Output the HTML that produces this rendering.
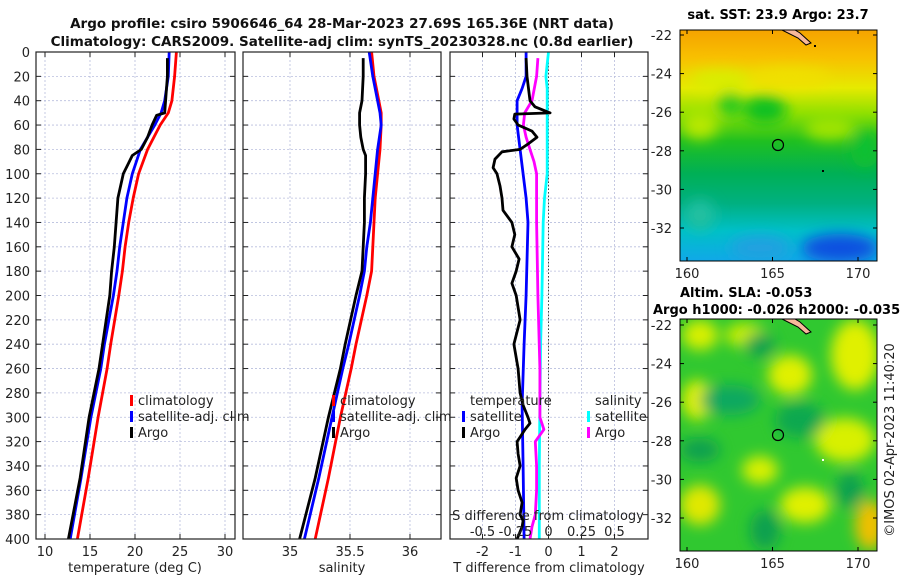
<!DOCTYPE html>
<html><head><meta charset="utf-8">
<style>
html,body{margin:0;padding:0;background:#fff;}
svg{display:block;font-family:"DejaVu Sans","Liberation Sans",sans-serif;}
</style></head>
<body>
<svg id="fig" width="900" height="580" viewBox="0 0 900 580">
<defs>
<filter id="blur1" x="-20%" y="-20%" width="140%" height="140%"><feGaussianBlur stdDeviation="7"/></filter>
<filter id="blur2" x="-20%" y="-20%" width="140%" height="140%"><feGaussianBlur stdDeviation="7"/></filter>
<clipPath id="clipTop"><rect x="680" y="30" width="197" height="231"/></clipPath>
<clipPath id="clipBot"><rect x="680" y="319" width="197" height="232"/></clipPath>
<clipPath id="c1"><rect x="36" y="52" width="199" height="487"/></clipPath>
<clipPath id="c2"><rect x="243" y="52" width="198" height="487"/></clipPath>
<clipPath id="c3"><rect x="450" y="52" width="198" height="487"/></clipPath>
<linearGradient id="sstGrad" x1="0" y1="0" x2="0" y2="1">
<stop offset="0" stop-color="#f5a300"/><stop offset="0.12" stop-color="#f8c000"/><stop offset="0.25" stop-color="#e6ea00"/>
<stop offset="0.36" stop-color="#90e000"/><stop offset="0.48" stop-color="#20c020"/><stop offset="0.62" stop-color="#00b055"/>
<stop offset="0.75" stop-color="#00b080"/><stop offset="0.87" stop-color="#00c0c8"/><stop offset="1" stop-color="#10a8e8"/>
</linearGradient>
</defs>

<g font-weight="bold" font-size="13.5" text-anchor="middle" fill="#111">
<text x="342" y="28">Argo profile: csiro 5906646_64 28-Mar-2023 27.69S 165.36E (NRT data)</text>
<text x="342" y="46">Climatology: CARS2009. Satellite-adj clim: synTS_20230328.nc (0.8d earlier)</text>
</g>

<g id="panels"></g>

<!-- SST map -->
<g>
<text x="778" y="19" font-weight="bold" font-size="13" text-anchor="middle">sat. SST: 23.9 Argo: 23.7</text>
<g clip-path="url(#clipTop)">
<rect x="680" y="30" width="197" height="231" fill="url(#sstGrad)"/>
<g filter="url(#blur1)">
<ellipse cx="700" cy="125" rx="18" ry="14" fill="#b8e800"/>
<ellipse cx="765" cy="110" rx="22" ry="14" fill="#10c020"/>
<ellipse cx="730" cy="105" rx="12" ry="12" fill="#20c820"/>
<ellipse cx="830" cy="128" rx="25" ry="12" fill="#a0e400"/>
<ellipse cx="865" cy="150" rx="14" ry="18" fill="#10c030"/>
<ellipse cx="700" cy="215" rx="15" ry="15" fill="#20c0a0"/>
<ellipse cx="840" cy="248" rx="38" ry="14" fill="#1050e0"/>
<ellipse cx="760" cy="248" rx="30" ry="12" fill="#20a0e0"/>
<ellipse cx="790" cy="78" rx="40" ry="10" fill="#f0e000"/>
<ellipse cx="720" cy="80" rx="30" ry="10" fill="#d8ee00"/>
</g>
<path d="M782 30 L798 38 L806 45 L811 43 L800 33 L795 30 Z" fill="#f7b89a" stroke="#000" stroke-width="1"/>
<circle cx="778" cy="145" r="5.5" fill="none" stroke="#000" stroke-width="1.2"/>
<rect x="814" y="45" width="2" height="2" fill="#000"/><rect x="822" y="170" width="2" height="2" fill="#000"/>
</g>
<rect x="680" y="30" width="197" height="231" fill="none" stroke="#000" stroke-width="1"/>
<g id="sstAxes"></g>
</g>

<!-- SLA map -->
<g>
<text x="680" y="297" font-weight="bold" font-size="13">Altim. SLA: -0.053</text>
<text x="653" y="314" font-weight="bold" font-size="13">Argo h1000: -0.026 h2000: -0.035</text>
<g clip-path="url(#clipBot)">
<rect x="680" y="319" width="197" height="232" fill="#30c830"/>
<g filter="url(#blur2)">
<ellipse cx="700" cy="335" rx="18" ry="15" fill="#d8f000"/>
<ellipse cx="745" cy="335" rx="20" ry="12" fill="#c8ee00"/>
<ellipse cx="790" cy="375" rx="22" ry="20" fill="#e0f000"/>
<ellipse cx="855" cy="355" rx="24" ry="35" fill="#e0f000"/>
<ellipse cx="697" cy="400" rx="15" ry="20" fill="#e0f000"/>
<ellipse cx="845" cy="440" rx="30" ry="22" fill="#d8f000"/>
<ellipse cx="760" cy="470" rx="18" ry="14" fill="#d8f000"/>
<ellipse cx="805" cy="505" rx="25" ry="18" fill="#e0f000"/>
<ellipse cx="700" cy="505" rx="20" ry="20" fill="#e0e800"/>
<ellipse cx="870" cy="525" rx="15" ry="25" fill="#f0c000"/>
<ellipse cx="760" cy="345" rx="15" ry="12" fill="#10a050"/>
<ellipse cx="730" cy="400" rx="30" ry="15" fill="#10a860"/>
<ellipse cx="800" cy="420" rx="25" ry="18" fill="#10a850"/>
<ellipse cx="700" cy="450" rx="20" ry="12" fill="#10a050"/>
<ellipse cx="850" cy="490" rx="14" ry="18" fill="#10a050"/>
<ellipse cx="765" cy="530" rx="15" ry="20" fill="#10a050"/>
</g>
<path d="M782 319 L798 327 L806 334 L811 332 L800 322 L795 319 Z" fill="#f7b89a" stroke="#000" stroke-width="1"/>
<circle cx="778" cy="435" r="5.5" fill="none" stroke="#000" stroke-width="1.2"/>
<rect x="822" y="459" width="2" height="2" fill="#fff"/>
</g>
<rect x="680" y="319" width="197" height="232" fill="none" stroke="#000" stroke-width="1"/>
<g id="slaAxes"></g>
</g>

<text transform="translate(894,440) rotate(-90)" font-size="13" text-anchor="middle" fill="#222">©IMOS 02-Apr-2023 11:40:20</text>
</svg>

<script>
// ---------- data ----------
const tDepths   = [0, 20, 40, 50, 60, 80, 100, 120, 140, 160, 180, 200, 240, 260, 300, 350, 400];
const tempClim  = [24.6, 24.4, 24.1, 23.7, 22.8, 21.4, 20.4, 19.8, 19.3, 18.9, 18.6, 18.2, 17.3, 16.9, 15.9, 14.8, 13.6];
const tempSat   = [23.8, 23.7, 23.3, 22.9, 22.2, 20.6, 19.7, 19.1, 18.7, 18.3, 18.0, 17.6, 16.6, 16.2, 15.1, 14.0, 12.8];
const argoDepths= [5, 20, 40, 50, 52, 60, 70, 80, 85, 100, 120, 140, 160, 180, 200, 240, 260, 300, 350, 400];
const tempArgo  = [23.6, 23.6, 23.4, 23.3, 22.4, 21.9, 21.4, 20.7, 19.7, 18.7, 18.1, 17.9, 17.7, 17.4, 17.2, 16.4, 16.0, 14.9, 13.9, 12.6];

const salClim   = [35.68, 35.70, 35.74, 35.76, 35.76, 35.75, 35.73, 35.71, 35.70, 35.69, 35.68, 35.64, 35.55, 35.51, 35.42, 35.32, 35.21];
const salSat    = [35.66, 35.69, 35.73, 35.75, 35.76, 35.73, 35.71, 35.69, 35.67, 35.64, 35.62, 35.58, 35.49, 35.44, 35.35, 35.24, 35.12];
const salArgo   = [35.61, 35.61, 35.60, 35.58, 35.58, 35.58, 35.59, 35.61, 35.63, 35.63, 35.62, 35.62, 35.61, 35.60, 35.55, 35.46, 35.42, 35.32, 35.21, 35.08];

const dDepths   = [0, 20, 30, 40, 60, 80, 100, 120, 140, 200, 240, 290, 340, 400];
const tDiffSat  = [-0.68, -0.68, -0.80, -0.95, -0.95, -0.86, -0.77, -0.68, -0.62, -0.68, -0.74, -0.80, -0.77, -0.74];
const sDiffSat  = [0.0, -0.02, -0.01, -0.01, -0.01, -0.01, -0.01, -0.03, -0.04, -0.05, -0.06, -0.065, -0.07, -0.07];
const daDepths  = [5, 20, 40, 45, 50, 51, 55, 60, 65, 70, 75, 80, 82, 88, 95, 100, 110, 120, 130, 140, 150, 160, 170, 180, 190, 200, 220, 240, 260, 280, 290, 300, 305, 310, 320, 330, 340, 350, 360, 370, 380, 385, 390, 400];
const tDiffArgo = [-0.68, -0.65, -0.56, -0.41, 0.05, -1.02, -1.05, -0.92, -0.50, -0.35, -0.59, -0.86, -1.41, -1.62, -1.68, -1.56, -1.47, -1.41, -1.38, -1.11, -1.02, -1.11, -0.89, -0.98, -1.11, -0.98, -0.86, -1.05, -0.92, -0.86, -0.77, -0.62, -0.56, -0.71, -0.95, -0.92, -0.86, -0.98, -0.92, -0.80, -0.86, -0.77, -0.80, -0.95];
const dsDepths  = [5, 20, 40, 50, 60, 70, 80, 90, 100, 120, 140, 200, 260, 300, 310, 320, 340, 360, 380, 390, 400];
const sDiffArgo = [-0.08, -0.09, -0.125, -0.18, -0.19, -0.17, -0.14, -0.11, -0.09, -0.09, -0.09, -0.08, -0.065, -0.065, -0.035, -0.10, -0.09, -0.09, -0.10, -0.125, -0.14];

const depthTicks = [0,20,40,60,80,100,120,140,160,180,200,220,240,260,280,300,320,340,360,380,400];
const tempTicks  = [10,15,20,25,30];
const salTicks   = [35,35.5,36];
const salTickLabels = ["35","35.5","36"];
const tdTicks    = [-2,-1,0,1,2];
const sdTicks    = [-0.5,-0.25,0,0.25,0.5];
const sdTickLabels = ["-0.5","-0.25","0","0.25","0.5"];
const latTicks   = [-22,-24,-26,-28,-30,-32];
const lonTicks   = [160,165,170];

// ---------- scales ----------
const Y0 = 52, Y1 = 539;
const yD = d => Y0 + d * (Y1 - Y0) / 400;
const xT = t => 45 + (t - 10) * 9;
const xS = s => 290 + (s - 35) * 120;
const xTD = v => 548.5 + v * 33;
const xSD = v => 548.5 + v * 132;

const NS = "http://www.w3.org/2000/svg";
const panels = document.getElementById("panels");
function mk(tag, attrs, parent) {
  const e = document.createElementNS(NS, tag);
  for (const k in attrs) e.setAttribute(k, attrs[k]);
  (parent || panels).appendChild(e);
  return e;
}
function txt(s, x, y, attrs, parent) {
  const e = mk("text", Object.assign({x: x, y: y, "font-size": 13, fill: "#222"}, attrs || {}), parent);
  e.textContent = s;
  return e;
}

const frames = [
  {x0:36, x1:235, name:"temperature-panel", clip:"c1"},
  {x0:243, x1:441, name:"salinity-panel", clip:"c2"},
  {x0:450, x1:648, name:"difference-panel", clip:"c3"}
];
const vgrid = [tempTicks.map(xT), salTicks.map(xS), tdTicks.map(xTD)];

frames.forEach((f, i) => {
  const g = mk("g", {});
  
  
  depthTicks.forEach(d => {
    const l = mk("line", {x1:f.x0, x2:f.x1, y1:yD(d), y2:yD(d), stroke:"#b8bedd", "stroke-width":0.8, "stroke-dasharray":"2,2"}, g);
    
    
    mk("line", {x1:f.x0, x2:f.x0+5, y1:yD(d), y2:yD(d), stroke:"#222"}, g);
    mk("line", {x1:f.x1-5, x2:f.x1, y1:yD(d), y2:yD(d), stroke:"#222"}, g);
  });
  vgrid[i].forEach(x => {
    const l = mk("line", {x1:x, x2:x, y1:Y0, y2:Y1, stroke:"#b8bedd", "stroke-width":0.8, "stroke-dasharray":"2,2"}, g);
    
    
    mk("line", {x1:x, x2:x, y1:Y1-5, y2:Y1, stroke:"#222"}, g);
    mk("line", {x1:x, x2:x, y1:Y0, y2:Y0+5, stroke:"#222"}, g);
  });
  f.g = g;
});

depthTicks.forEach(d => {
  const t = txt(String(d), 30, yD(d)+5, {"text-anchor":"end"});
  
  
});
tempTicks.forEach(v => {
  const t = txt(String(v), xT(v), 556, {"text-anchor":"middle"});
  
  
});
salTicks.forEach((v, i) => {
  const t = txt(salTickLabels[i], xS(v), 556, {"text-anchor":"middle"});
  
  
});
tdTicks.forEach(v => {
  const t = txt(String(v), xTD(v), 556, {"text-anchor":"middle"});
  
  
});
let at = txt("temperature (deg C)", 135, 572, {"text-anchor":"middle"});


at = txt("salinity", 342, 572, {"text-anchor":"middle"});


at = txt("T difference from climatology", 549, 572, {"text-anchor":"middle"});



const zl = mk("line", {x1:xTD(0), x2:xTD(0), y1:Y0, y2:Y1, stroke:"#444", "stroke-width":1, "stroke-dasharray":"1.5,2"});



function series(vals, depths, xf, color, clip, name) {
  const pts = vals.map((v, i) => xf(v).toFixed(1) + "," + yD(depths[i]).toFixed(1)).join(" ");
  const p = mk("polyline", {points: pts, fill:"none", stroke: color, "stroke-width": 2.8, "stroke-linejoin":"round", "clip-path":"url(#"+clip+")"});
  
  
}
series(tempClim, tDepths, xT, "#ff0000", "c1", "temperature-climatology-line");
series(tempSat, tDepths, xT, "#0000ff", "c1", "temperature-satellite-line");
series(tempArgo, argoDepths, xT, "#000000", "c1", "temperature-argo-line");
series(salClim, tDepths, xS, "#ff0000", "c2", "salinity-climatology-line");
series(salSat, tDepths, xS, "#0000ff", "c2", "salinity-satellite-line");
series(salArgo, argoDepths, xS, "#000000", "c2", "salinity-argo-line");
series(sDiffSat, dDepths, xSD, "#00ffff", "c3", "s-diff-satellite-line");
series(tDiffSat, dDepths, xTD, "#0000ff", "c3", "t-diff-satellite-line");
series(sDiffArgo, dsDepths, xSD, "#ff00ff", "c3", "s-diff-argo-line");
series(tDiffArgo, daDepths, xTD, "#000000", "c3", "t-diff-argo-line");

frames.forEach(f => {
  const r = mk("rect", {x:f.x0, y:Y0, width:f.x1-f.x0, height:Y1-Y0, fill:"none", stroke:"#222", "stroke-width":1.2});
  
  
});

let sdt = txt("S difference from climatology", 548, 520, {"text-anchor":"middle", fill:"#222"});


sdTicks.forEach((v, i) => {
  const t = txt(sdTickLabels[i], xSD(v), 536, {"text-anchor":"middle"});
  
  
});

function legend(x, y, color, label, name) {
  const g = mk("g", {});
  
  
  mk("rect", {x:x, y:y-10, width:3, height:11, fill:color}, g);
  txt(label, x+8, y, {}, g);
}
legend(130, 405, "#ff0000", "climatology", "legend-climatology");
legend(130, 421, "#0000ff", "satellite-adj. clim", "legend-satellite-adj");
legend(130, 437, "#000000", "Argo", "legend-argo");
legend(332, 405, "#ff0000", "climatology", "legend-sal-climatology");
legend(332, 421, "#0000ff", "satellite-adj. clim", "legend-sal-satellite-adj");
legend(332, 437, "#000000", "Argo", "legend-sal-argo");
let lt = txt("temperature", 470, 405, {});


legend(462, 421, "#0000ff", "satellite", "legend-t-satellite");
legend(462, 437, "#000000", "Argo", "legend-t-argo");
lt = txt("salinity", 595, 405, {});


legend(587, 421, "#00ffff", "satellite", "legend-s-satellite");
legend(587, 437, "#ff00ff", "Argo", "legend-s-argo");

function mapAxes(gid, yTop, yBot, latY0, latY1) {
  const g = document.getElementById(gid);
  const yLat = la => latY0 + (la + 22) * (latY1 - latY0) / -10;
  const xLon = lo => 687 + (lo - 160) * 17.1;
  latTicks.forEach(la => {
    mk("line", {x1:680, x2:684, y1:yLat(la), y2:yLat(la), stroke:"#000"}, g);
    mk("line", {x1:873, x2:877, y1:yLat(la), y2:yLat(la), stroke:"#000"}, g);
    const t = txt(String(la), 672, yLat(la)+5, {"text-anchor":"end"}, g);
    
    
  });
  lonTicks.forEach(lo => {
    mk("line", {x1:xLon(lo), x2:xLon(lo), y1:yBot-4, y2:yBot, stroke:"#000"}, g);
    mk("line", {x1:xLon(lo), x2:xLon(lo), y1:yTop, y2:yTop+4, stroke:"#000"}, g);
    const t = txt(String(lo), xLon(lo), yBot+17, {"text-anchor":"middle"}, g);
    
    
  });
}
mapAxes("sstAxes", 30, 261, 35, 228);
mapAxes("slaAxes", 319, 551, 325, 518);
</script>
</body></html>
